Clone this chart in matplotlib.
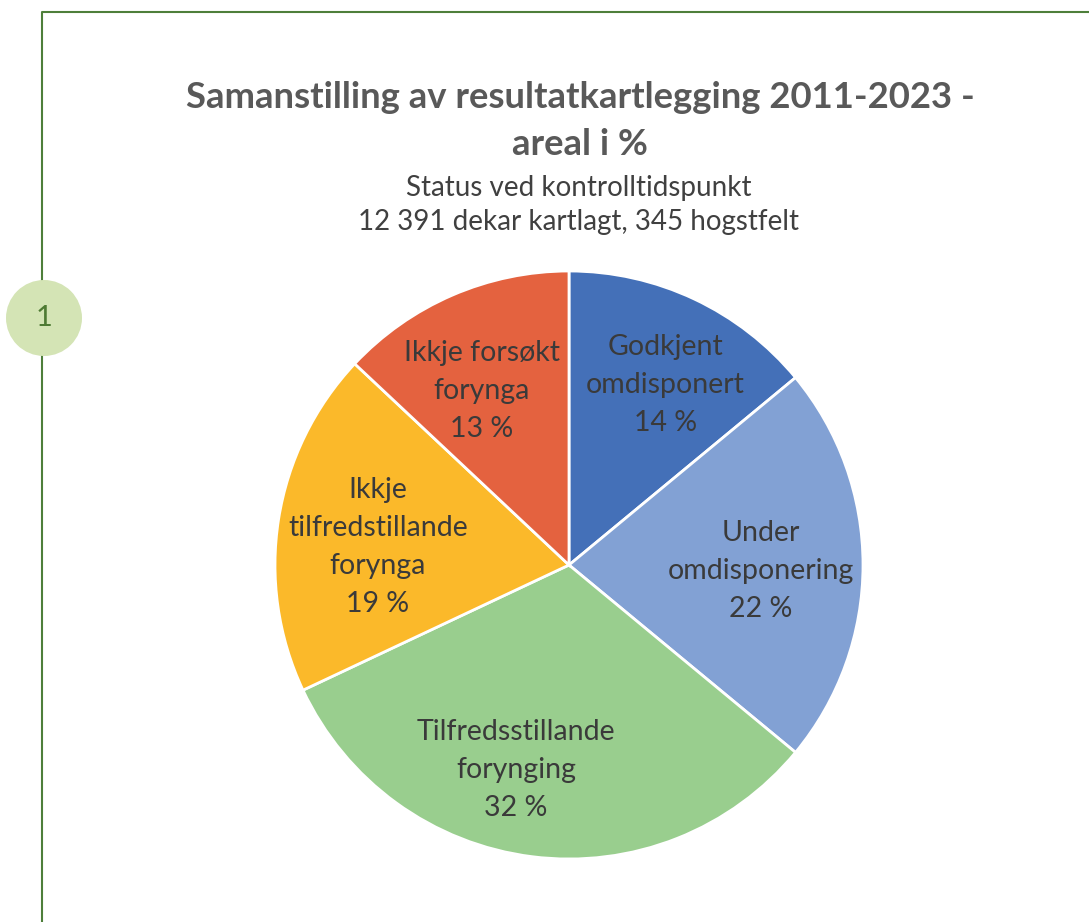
import matplotlib.pyplot as plt
from matplotlib.patches import Circle
import numpy as np

# pie data (share of mapped area, %)
categories = ['Godkjent\nomdisponert', 'Under\nomdisponering', 'Tilfredsstillande\nforynging',
              'Ikkje\ntilfredstillande\nforynga', 'Ikkje forsøkt\nforynga']
shares = [14, 22, 32, 19, 13]
colors = ['#4470B8', '#82A1D4', '#99CE8E', '#FBB92A', '#E4623F']

title = 'Samanstilling av resultatkartlegging 2011-2023 -\nareal i %'
subtitle = 'Status ved kontrolltidspunkt\n12 391 dekar kartlagt, 345 hogstfelt'

plt.rcParams['font.family'] = ['Lato', 'DejaVu Sans']

W, H = 1089, 922
fig = plt.figure(figsize=(W / 100, H / 100), dpi=100)
ax = fig.add_axes([0, 0, 1, 1])

# pixel-like coordinates, y pointing up
cx, cy, r = 569, H - 565, 294
wedges, _ = ax.pie(shares, colors=colors, startangle=90, counterclock=False,
                   center=(cx, cy), radius=r, labeldistance=None,
                   wedgeprops=dict(edgecolor='white', linewidth=2))

# labels inside the slices, Excel style (radial distance + small angle nudge)
label_r = [0.703, 0.653, 0.71, 0.654, 0.671]
label_nudge = [-2.5, -0.9, -7.5, 2.7, 2.8]
for w, lab, val, lr, dn in zip(wedges, categories, shares, label_r, label_nudge):
    mid = np.deg2rad((w.theta1 + w.theta2) / 2 + dn)
    ax.text(cx + lr * r * np.cos(mid), cy + lr * r * np.sin(mid) - 3, f'{lab}\n{val} %',
            ha='center', va='center', fontsize=20.5, color='#3A3A3A', linespacing=1.58)

ax.set_xlim(0, W)
ax.set_ylim(0, H)
ax.set_aspect('equal')
ax.axis('off')

# titles
ax.text(580, H - 121, title, ha='center', va='center', fontsize=26.3, fontweight='bold',
        color='#595959', linespacing=1.52)
ax.text(579, H - 205, subtitle, ha='center', va='center', fontsize=20, color='#404040',
        linespacing=1.42)

# green frame and numbered badge
ax.plot([42, 42, W], [0, H - 12, H - 12], color='#4E7F3A', linewidth=1.5, solid_capstyle='butt')
ax.add_patch(Circle((44, H - 318), 38, facecolor='#D4E4B5', edgecolor='none', zorder=3))
ax.text(44, H - 318, '1', ha='center', va='center', fontsize=21, color='#4E7A33', zorder=4)

fig.savefig('out.png', dpi=100)
